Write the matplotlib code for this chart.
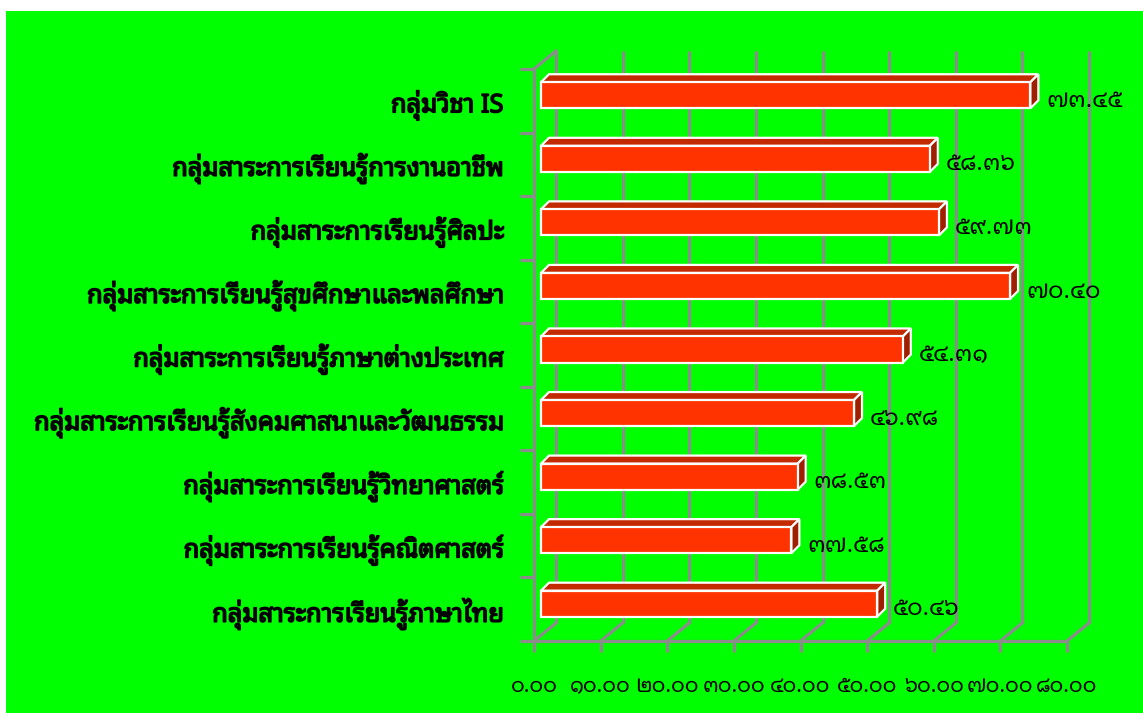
import matplotlib
matplotlib.use("Agg")
import matplotlib.pyplot as plt
from matplotlib.patches import Polygon, Rectangle
from matplotlib.lines import Line2D
import matplotlib.transforms as mtransforms
import matplotlib.patheffects as pe

# ---------------- data ----------------
categories = [
    "กลุ่มสาระการเรียนรู้ภาษาไทย",
    "กลุ่มสาระการเรียนรู้คณิตศาสตร์",
    "กลุ่มสาระการเรียนรู้วิทยาศาสตร์",
    "กลุ่มสาระการเรียนรู้สังคมศาสนาและวัฒนธรรม",
    "กลุ่มสาระการเรียนรู้ภาษาต่างประเทศ",
    "กลุ่มสาระการเรียนรู้สุขศึกษาและพลศึกษา",
    "กลุ่มสาระการเรียนรู้ศิลปะ",
    "กลุ่มสาระการเรียนรู้การงานอาชีพ",
    "กลุ่มวิชา IS",
]
values = [50.46, 37.58, 38.53, 46.98, 54.31, 70.40, 59.73, 58.36, 73.45]
value_labels = ["๕๐.๔๖", "๓๗.๕๘", "๓๘.๕๓", "๔๖.๙๘", "๕๔.๓๑", "๗๐.๔๐", "๕๙.๗๓", "๕๘.๓๖", "๗๓.๔๕"]
xticks = [0, 10, 20, 30, 40, 50, 60, 70, 80]
xtick_labels = ["๐.๐๐", "๑๐.๐๐", "๒๐.๐๐", "๓๐.๐๐", "๔๐.๐๐", "๕๐.๐๐", "๖๐.๐๐", "๗๐.๐๐", "๘๐.๐๐"]

# ---------------- style ----------------
FONT = ["Noto Sans Thai Looped", "DejaVu Sans"]
plt.rcParams["font.family"] = FONT
GREEN = "#00FF00"
GRID = "#8C8C8C"
BAR_FRONT = "#FF3300"
BAR_TOP = "#C42A00"
BAR_SIDE = "#9E2000"

W, H, DPI = 1143, 713, 100
fig = plt.figure(figsize=(W / DPI, H / DPI), dpi=DPI, facecolor="white")
# green chart area (white margin top/left)
fig.patches.append(Rectangle((6 / W, 0), 1 - 6 / W, 1 - 11 / H, transform=fig.transFigure,
                             facecolor=GREEN, edgecolor="none", zorder=-10))

# front plane of the 3D plot
x0, x1 = 534, 1067
ytop, ybot = 69, 641
ax = fig.add_axes([x0 / W, (H - ybot) / H, (x1 - x0) / W, (ybot - ytop) / H])
ax.set_zorder(1)
ax.set_facecolor("none")
ax.set_xlim(0, 80)
ax.set_ylim(-0.5, len(categories) - 0.5)

# depth of the wall (pixels)
DX, DY = 22, 18
back = ax.transData + mtransforms.Affine2D().translate(DX, DY)

ppx = (x1 - x0) / 80.0           # pixels per value unit
ppy = (ybot - ytop) / len(categories)  # pixels per category

lw = 2.3
dxd, dyd = DX / ppx, DY / ppy
# back-wall vertical grid lines and floor diagonals
for v in xticks:
    ax.add_line(Line2D([v, v], [-0.5, len(categories) - 0.5], transform=back,
                       color=GRID, lw=lw, zorder=1, solid_capstyle="butt", clip_on=False))
    ax.add_line(Line2D([v, v + dxd], [-0.5, -0.5 + dyd], color=GRID, lw=lw, zorder=1, clip_on=False))
# left wall: top diagonal
ax.add_line(Line2D([0, dxd], [len(categories) - 0.5, len(categories) - 0.5 + dyd],
                   color=GRID, lw=lw, zorder=1, clip_on=False))

# spines / axes
for s in ["top", "right"]:
    ax.spines[s].set_visible(False)
for s in ["left", "bottom"]:
    ax.spines[s].set_color(GRID)
    ax.spines[s].set_linewidth(lw)
    ax.spines[s].set_zorder(1)

ax.set_xticks(xticks)
ax.set_xticklabels(xtick_labels, fontsize=15.2)
ax.tick_params(axis="x", direction="out", length=8, width=lw, color=GRID, pad=17)

ax.set_yticks([i - 0.5 for i in range(len(categories) + 1)])
ax.set_yticklabels([])
ax.tick_params(axis="y", which="major", direction="out", length=10, width=lw, color=GRID)
ax.set_yticks(range(len(categories)), minor=True)
ylabels = ax.set_yticklabels(categories, minor=True, fontsize=18)
ax.tick_params(axis="y", which="minor", length=0, pad=22)

# scale the category font so the longest label spans the same width as in the reference
renderer = fig.canvas.get_renderer()
longest = max(ylabels, key=lambda t: t.get_window_extent(renderer).width)
wcur = longest.get_window_extent(renderer).width
target = 470.0
newsize = 18 * target / wcur
for t in ylabels:
    t.set_fontsize(newsize)
    t.set_path_effects([pe.withStroke(linewidth=1.1, foreground="black")])

# ---------------- 3D bars ----------------
BH = 0.41                 # bar height (category units)
boff_x, boff_y = 7 / ppx, 5.5 / ppy   # bar plane offset from front plane
bd_x, bd_y = 8 / ppx, 8 / ppy         # bar depth
for i, (v, lab) in enumerate(zip(values, value_labels)):
    xl, xr = boff_x, v + boff_x
    yb, yt = i - BH / 2 + boff_y, i + BH / 2 + boff_y
    front = Polygon([(xl, yb), (xr, yb), (xr, yt), (xl, yt)], closed=True,
                    facecolor=BAR_FRONT, edgecolor="white", lw=1.6, zorder=3, clip_on=False)
    top = Polygon([(xl, yt), (xr, yt), (xr + bd_x, yt + bd_y), (xl + bd_x, yt + bd_y)], closed=True,
                  facecolor=BAR_TOP, edgecolor="white", lw=1.6, zorder=3, clip_on=False)
    side = Polygon([(xr, yb), (xr + bd_x, yb + bd_y), (xr + bd_x, yt + bd_y), (xr, yt)], closed=True,
                   facecolor=BAR_SIDE, edgecolor="white", lw=1.6, zorder=3, clip_on=False)
    for p in (top, side, front):
        ax.add_patch(p)
    ax.text(xr + bd_x + 8 / ppx, i, lab, fontsize=17, va="center", ha="left", zorder=4, clip_on=False)

fig.savefig("out.png", dpi=DPI, facecolor="white")
